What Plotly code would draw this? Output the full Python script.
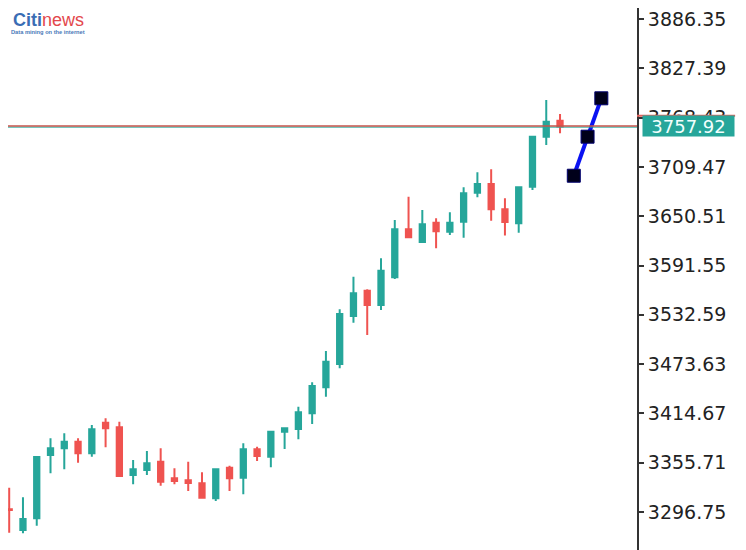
import plotly.graph_objects as go

# ---- data ----
idx = list(range(41))
opens = [3300.0, 3275.2, 3289.2, 3364.9, 3372.9, 3380.8, 3367.0, 3403.6, 3398.1, 3341.0,
         3347.0, 3356.9, 3337.1, 3334.7, 3331.1, 3313.1, 3349.7, 3337.8, 3371.7, 3362.9,
         3392.8, 3396.0, 3414.8, 3445.9, 3473.8, 3531.2, 3561.4, 3544.3, 3577.4, 3634.8,
         3619.7, 3642.7, 3632.0, 3643.9, 3678.6, 3689.0, 3658.9, 3642.0, 3685.8, 3745.6,
         3764.7]
highs = [3325.8, 3314.3, 3363.5, 3384.9, 3390.9, 3384.9, 3400.8, 3408.8, 3404.7, 3358.9,
         3369.7, 3372.9, 3349.0, 3356.9, 3344.2, 3349.0, 3352.1, 3378.9, 3374.8, 3393.6,
         3397.2, 3422.7, 3451.9, 3489.3, 3539.2, 3578.2, 3563.1, 3600.2, 3646.0, 3673.8,
         3657.9, 3648.0, 3655.2, 3685.1, 3703.0, 3706.6, 3671.9, 3685.5, 3746.4, 3789.5,
         3772.7]
lows = [3272.0, 3271.3, 3280.4, 3343.0, 3347.8, 3355.7, 3362.9, 3374.1, 3338.9, 3329.9,
        3341.0, 3328.2, 3329.9, 3321.9, 3313.0, 3309.9, 3321.9, 3317.9, 3357.7, 3350.2,
        3372.1, 3383.7, 3402.0, 3434.6, 3468.6, 3523.1, 3508.4, 3538.3, 3575.4, 3624.5,
        3618.9, 3612.1, 3628.0, 3624.8, 3673.1, 3645.1, 3627.4, 3630.8, 3681.8, 3735.7,
        3749.7]
closes = [3299.0, 3288.4, 3362.5, 3372.9, 3380.8, 3367.0, 3395.7, 3396.9, 3339.8, 3347.8,
          3355.0, 3333.0, 3333.8, 3331.4, 3313.9, 3347.8, 3337.1, 3371.7, 3363.7, 3392.8,
          3396.9, 3416.0, 3447.4, 3476.5, 3533.5, 3558.3, 3544.3, 3585.3, 3634.8, 3625.3,
          3640.8, 3632.5, 3642.7, 3677.9, 3689.0, 3658.8, 3643.6, 3685.1, 3745.6, 3763.5,
          3757.92]

forecast_x = [41, 42, 43]
forecast_y = [3698.9, 3745.6, 3791.5]

tick_vals = [3296.75, 3355.71, 3414.67, 3473.63, 3532.59, 3591.55, 3650.51,
             3709.47, 3768.43, 3827.39, 3886.35]
tick_text = ["3296.75", "3355.71", "3414.67", "3473.63", "3532.59", "3591.55",
             "3650.51", "3709.47", "3768.43", "3827.39", "3886.35"]

last_price = 3757.92
last_price_text = "3757.92"

TEAL = "#26a69a"
RED = "#ef5350"

fig = go.Figure()
fig.add_trace(go.Candlestick(
    x=idx, open=opens, high=highs, low=lows, close=closes,
    increasing=dict(line=dict(color=TEAL, width=2), fillcolor=TEAL),
    decreasing=dict(line=dict(color=RED, width=2), fillcolor=RED),
    whiskerwidth=0, showlegend=False, hoverinfo="skip",
))
fig.add_trace(go.Scatter(
    x=forecast_x, y=forecast_y, mode="lines+markers",
    line=dict(color="#0a12f2", width=4),
    marker=dict(symbol="square", size=13, color="#00001a",
                line=dict(color="#000070", width=1)),
    showlegend=False, hoverinfo="skip",
))

shapes = [
    dict(type="line", xref="paper", x0=0, x1=1, yref="y", y0=last_price - 0.9, y1=last_price - 0.9,
         line=dict(color=TEAL, width=1)),
    dict(type="line", xref="paper", x0=0, x1=1, yref="y", y0=last_price + 0.6, y1=last_price + 0.6,
         line=dict(color="#c4544b", width=1.5)),
    dict(type="line", xref="paper", x0=1.0, x1=1.156, yref="y", y0=3770.6, y1=3770.6,
         line=dict(color="#e0605a", width=2)),
]

annotations = [
    dict(xref="paper", yref="y", x=1.0079, y=last_price, xanchor="left", yanchor="middle",
         text=last_price_text, showarrow=False, bgcolor=TEAL, width=89, height=18, borderpad=1,
         font=dict(family="DejaVu Sans", size=18, color="#f2fffd")),
    dict(xref="paper", yref="paper", x=0.005, y=1.0, xanchor="left", yanchor="top",
         text="<b><span style='color:#3a6db4'>Citi</span></b><span style='color:#e3474c'>news</span>",
         showarrow=False, font=dict(family="Liberation Sans", size=18)),
    dict(xref="paper", yref="paper", x=0.002, y=0.965, xanchor="left", yanchor="top",
         text="<b>Data mining on the internet</b>", showarrow=False,
         font=dict(family="Liberation Sans", size=5.7, color="#4a78b8")),
]

# page has an 8px body margin, so the figure is 738x542 to fill the 746x550 window
fig.update_layout(
    width=738, height=542,
    margin=dict(l=0, r=109, t=0, b=0),
    paper_bgcolor="white", plot_bgcolor="white",
    boxgap=0.45,
    xaxis=dict(visible=False, range=[-0.087, 45.59], rangeslider=dict(visible=False)),
    yaxis=dict(side="right", range=[3251.3, 3899.5], tickvals=tick_vals, ticktext=tick_text,
               ticks="outside", ticklen=5, tickwidth=1.5, tickcolor="#333",
               showline=True, linecolor="#333", linewidth=2,
               showgrid=False, zeroline=False, ticklabeloverflow="allow",
               tickfont=dict(family="DejaVu Sans", size=19, color="#222")),
    shapes=shapes, annotations=annotations,
)

fig.write_html("out.html")
